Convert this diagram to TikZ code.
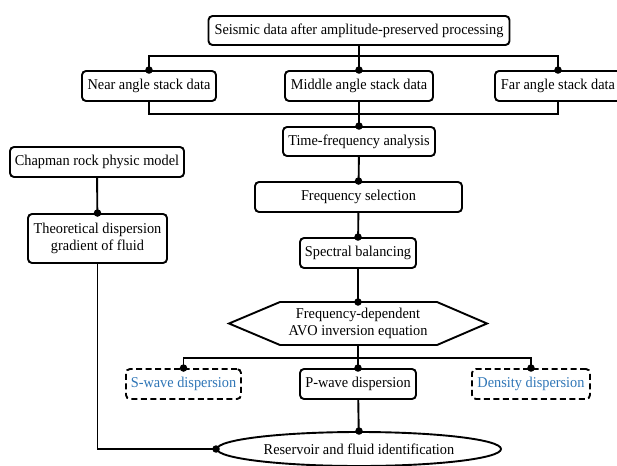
\documentclass[tikz,border=0pt]{standalone}
\usepackage{fontspec}
\setmainfont{Liberation Serif}[FakeStretch=0.955]
\usetikzlibrary{shapes.geometric}
\definecolor{wavetext}{RGB}{46,117,182}
\begin{document}
\begin{tikzpicture}[x=1pt,y=-1pt,
  box/.style={draw, line width=1.9pt, rounded corners=4pt, inner sep=0pt, align=center, font=\fontsize{15}{17.5}\selectfont},
  dbox/.style={box, dash pattern=on 6pt off 3.5pt, text=wavetext},
  plain/.style={inner sep=0pt, align=center, font=\fontsize{15}{17.5}\selectfont},
  conn/.style={line width=1.9pt},
  dot/.style={circle, fill=black, inner sep=0pt, minimum size=7.5pt}
]
\useasboundingbox (0,0) rectangle (617,465);
\clip (0,0) rectangle (617,465);

\node[box, minimum width=301pt, minimum height=29pt] (top) at (359,30.5) {Seismic data after amplitude-preserved processing};
\node[box, minimum width=134pt, minimum height=30pt] (near) at (149,86) {Near angle stack data};
\node[box, minimum width=148pt, minimum height=30pt] (mid) at (359,86) {Middle angle stack data};
\node[box, minimum width=126pt, minimum height=30pt] (far) at (558,86) {Far angle stack data};
\node[box, minimum width=152pt, minimum height=29pt] (tf) at (359,141.5) {Time-frequency analysis};
\node[box, minimum width=174pt, minimum height=30pt] (chap) at (97,162) {Chapman rock physic model};
\node[box, minimum width=207pt, minimum height=30pt] (fs) at (358.5,197) {Frequency selection};
\node[box, minimum width=139pt, minimum height=49pt] (theo) at (97.5,238.5) {Theoretical dispersion\\gradient of fluid};
\node[box, minimum width=116pt, minimum height=30pt] (sb) at (358,253) {Spectral balancing};
\node[plain] (hex) at (358,323.5) {Frequency-dependent\\AVO inversion equation};
\coordinate (hexN) at (358,302);
\coordinate (hexS) at (358,345);
\draw[conn] (229,323.5) -- (280,302) -- (hexN) -- (437,302) -- (487,323.5) -- (437,345) -- (hexS) -- (280,345) -- cycle;
\node[dbox, minimum width=115pt, minimum height=30pt] (sw) at (183.5,384) {S-wave dispersion};
\node[box, minimum width=116pt, minimum height=30pt] (pw) at (358,384) {P-wave dispersion};
\node[dbox, minimum width=118pt, minimum height=30pt] (dd) at (531,384) {Density dispersion};
\node[box, ellipse, minimum width=284pt, minimum height=34pt] (ell) at (359,449) {Reservoir and fluid identification};

% connectors
\draw[conn] (top) -- (mid);
\draw[conn] (near.north) -- ++(0,-14) -| (far.north);
\draw[conn] (near.south) -- ++(0,12) -| (far.south);
\draw[conn] (mid) -- (tf);
\draw[conn] (tf) -- (fs);
\draw[conn] (fs) -- (sb);
\draw[conn] (sb) -- (hexN);
\draw[conn] (chap) -- (theo);
\draw[conn] (hexS) -- (pw);
\draw[conn] (sw.north) -- ++(0,-10) -| (dd.north);
\draw[conn] (pw) -- (ell);
\draw[conn] (theo.south) |- (ell.west);

% dots
\foreach \p in {near.north, mid.north, far.north, tf.north, fs.north, sb.north, hexN, theo.north, sw.north, pw.north, dd.north, ell.north, ell.west}
  \node[dot] at (\p) {};
\end{tikzpicture}
\end{document}
